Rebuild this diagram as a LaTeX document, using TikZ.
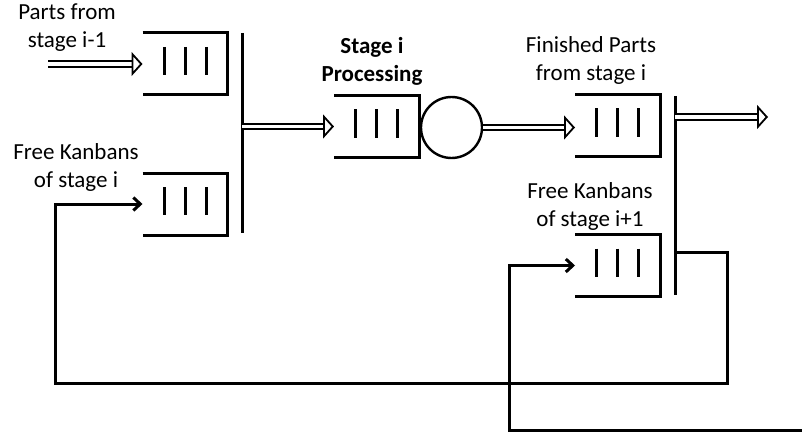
\documentclass[tikz,border=0pt]{standalone}
\usepackage{fontspec}
\setmainfont{Carlito}
\usetikzlibrary{arrows.meta,positioning}

\tikzset{
  qline/.style={line width=3pt},
  dbl/.style={double,double distance=3.5pt,line width=1.8pt,
    -{Triangle[open,length=11pt,width=24pt,line width=1.8pt]}},
  fb/.style={line width=3pt,-{Straight Barb[length=7pt,width=13pt]}},
  lbl/.style={align=center,inner sep=0pt},
  pics/queue/.style={code={
    \coordinate (-w) at (-42.5,0);
    \coordinate (-e) at (42.5,0);
    \draw[qline] (-42.5,-31) -- (42.5,-31) -- (42.5,31) -- (-42.5,31);
    \foreach \dx in {-21,0,21} \draw[qline] (\dx,-17) -- (\dx,11);
  }}
}

\begin{document}
\begin{tikzpicture}[x=1pt,y=-1pt,font=\fontsize{23}{28}\selectfont]
  \useasboundingbox (0,0) rectangle (802,433);

  % queues and server
  \pic (q1) at (185,64) {queue};
  \pic (q2) at (185,204) {queue};
  \pic (q3) at (376.5,126.5) {queue};
  \pic (q4) at (617.5,125.5) {queue};
  \pic (q5) at (617.5,265.5) {queue};
  \node[draw,circle,line width=2.4pt,minimum size=61pt,inner sep=0pt] (srv) at (451.5,127.5) {};

  % join bars
  \coordinate (j1t) at (242,33);
  \coordinate (j1b) at (242,233);
  \coordinate (j2t) at (675,96);
  \coordinate (j2b) at (675,295);
  \draw[qline] (j1t) -- (j1b);
  \draw[qline] (j2t) -- (j2b);

  % labels
  \node[lbl] (lparts) at (67,28) {Parts from\\stage i-1};
  \node[lbl] (lfree) at (76,167) {Free Kanbans\\of stage i};
  \node[lbl,font=\fontsize{23}{28}\selectfont\bfseries] (lproc) at (372,61) {Stage i\\Processing};
  \node[lbl] (lfin) at (591,60) {Finished Parts\\from stage i};
  \node[lbl] (lfree2) at (590,206) {Free Kanbans\\of stage i+1};

  % part flow
  \coordinate (src) at (48,64);
  \coordinate (out) at (768,117);
  \draw[dbl] (src) -- (q1-w);
  \draw[dbl] (q3-w -| j1t) -- (q3-w);
  \draw[dbl] (srv.east) -- (srv.east -| q4-w);
  \draw[dbl] (out -| j2t) -- (out);

  % kanban loops
  \coordinate (j2k) at (675,252);
  \coordinate (loopL) at (55,383);
  \coordinate (loopR) at (509,430);
  \coordinate (inR) at (802,430);
  \draw[fb] (j2k) -- ++(52,0) |- (loopL) |- (q2-w);
  \draw[fb] (inR) -- (loopR) |- (q5-w);
\end{tikzpicture}
\end{document}
